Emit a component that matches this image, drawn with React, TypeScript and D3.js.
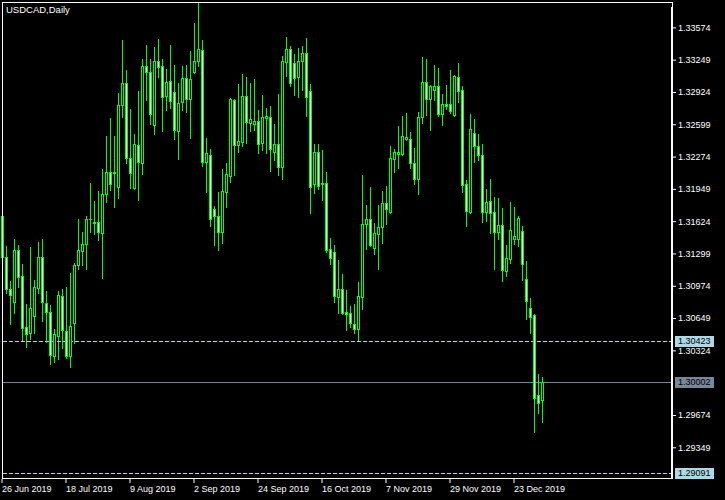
import { useEffect, useRef } from 'react';
import * as d3 from 'd3';

const symbolTitle = 'USDCAD,Daily';

// daily OHLC (26 Jun 2019 onwards, one value per trading day)
const openP = [
  1.31676, 1.31261, 1.30939, 1.30808, 1.31334, 1.31069, 1.30556, 1.30496, 1.30667, 1.30949,
  1.31261, 1.30798, 1.30707, 1.30265, 1.30472, 1.30868, 1.30516, 1.30265, 1.30597, 1.3118,
  1.31321, 1.31391, 1.31643, 1.31603, 1.31613, 1.31502, 1.31894, 1.32119, 1.32106, 1.31971,
  1.3279, 1.33014, 1.3226, 1.31961, 1.3239, 1.32212, 1.33185, 1.33125, 1.32595, 1.33235,
  1.33188, 1.32886, 1.33034, 1.3292, 1.32534, 1.3282, 1.33061, 1.32856, 1.33128, 1.33232,
  1.33346, 1.32216, 1.3229, 1.31743, 1.31673, 1.31518, 1.3192, 1.32081, 1.32843, 1.32393,
  1.32423, 1.32883, 1.32609, 1.32605, 1.32632, 1.32413, 1.32665, 1.32672, 1.32323, 1.324,
  1.32172, 1.33228, 1.33356, 1.33215, 1.33077, 1.33235, 1.33316, 1.32934, 1.32001, 1.32323,
  1.31995, 1.32008, 1.31341, 1.31311, 1.30864, 1.30939, 1.3071, 1.30697, 1.3059, 1.30542,
  1.30864, 1.31593, 1.31643, 1.31357, 1.31492, 1.31562, 1.31804, 1.31719, 1.32246, 1.32303,
  1.32303, 1.32454, 1.32451, 1.32212, 1.32045, 1.32669, 1.33021, 1.3285, 1.32944, 1.32984,
  1.32705, 1.32803, 1.32803, 1.32692, 1.33074, 1.32944, 1.31998, 1.31719, 1.32508, 1.3238,
  1.3229, 1.31719, 1.31827, 1.31716, 1.31518, 1.31585, 1.31126, 1.31246, 1.31448, 1.31448,
  1.31525, 1.31039, 1.30747, 1.3068, 1.29875, 1.29822,
];
const highP = [
  1.31696, 1.31374, 1.31022, 1.31445, 1.31384, 1.31193, 1.30791, 1.31367, 1.31032, 1.31414,
  1.31445, 1.30922, 1.30781, 1.30539, 1.30922, 1.30945, 1.30962, 1.31103, 1.31206, 1.31646,
  1.31515, 1.31676, 1.32005, 1.31827, 1.31928, 1.32149, 1.32481, 1.32662, 1.32481, 1.32913,
  1.33447, 1.33145, 1.32752, 1.32501, 1.32934, 1.33252, 1.33396, 1.33252, 1.33376, 1.33457,
  1.33255, 1.33155, 1.33396, 1.33195, 1.33014, 1.33185, 1.33195, 1.33336, 1.33615, 1.33816,
  1.33447, 1.32458, 1.3235, 1.31777, 1.31914, 1.32149, 1.32209, 1.32863, 1.32853, 1.33004,
  1.33105, 1.33074, 1.33014, 1.33054, 1.32742, 1.32893, 1.32766, 1.32783, 1.32602, 1.32903,
  1.33286, 1.33477, 1.33386, 1.33306, 1.33366, 1.33386, 1.33467, 1.33004, 1.32403, 1.32403,
  1.32343, 1.32122, 1.31458, 1.31384, 1.31233, 1.31093, 1.30932, 1.30774, 1.30791, 1.31012,
  1.32088, 1.31787, 1.31971, 1.31609, 1.31787, 1.31928, 1.31981, 1.3238, 1.3235, 1.32581,
  1.32682, 1.32709, 1.32518, 1.32363, 1.32722, 1.33276, 1.33255, 1.32994, 1.33195, 1.33165,
  1.32903, 1.32994, 1.33145, 1.33094, 1.33215, 1.32984, 1.32038, 1.32702, 1.32652, 1.32501,
  1.324, 1.31948, 1.32048, 1.31867, 1.31857, 1.31757, 1.31384, 1.31817, 1.31767, 1.31676,
  1.31575, 1.31223, 1.30851, 1.3069, 1.30087, 1.30056,
];
const lowP = [
  1.31243, 1.30904, 1.30587, 1.30697, 1.30959, 1.30429, 1.30361, 1.30436, 1.30496, 1.30898,
  1.30623, 1.30411, 1.30184, 1.3021, 1.30234, 1.30351, 1.30251, 1.3016, 1.30401, 1.31143,
  1.31183, 1.31143, 1.31518, 1.31492, 1.31438, 1.31055, 1.3182, 1.31938, 1.3177, 1.3186,
  1.32669, 1.32212, 1.31961, 1.31951, 1.3184, 1.32102, 1.32846, 1.32602, 1.32504, 1.33074,
  1.32531, 1.32742, 1.32763, 1.32451, 1.32249, 1.32742, 1.32725, 1.32464, 1.33118, 1.33188,
  1.32182, 1.31914, 1.31578, 1.31384, 1.31334, 1.31401, 1.3177, 1.32021, 1.32088, 1.32323,
  1.32383, 1.3241, 1.32531, 1.32544, 1.3231, 1.32343, 1.3231, 1.32129, 1.32239, 1.32088,
  1.32048, 1.33084, 1.32984, 1.32893, 1.32876, 1.32947, 1.32685, 1.31709, 1.3191, 1.31951,
  1.3184, 1.31311, 1.31193, 1.30814, 1.30697, 1.3069, 1.30529, 1.30556, 1.30496, 1.30429,
  1.30743, 1.31347, 1.31377, 1.31294, 1.31143, 1.31407, 1.31599, 1.31709, 1.32122, 1.32162,
  1.3229, 1.32441, 1.32156, 1.31998, 1.31897, 1.32615, 1.32692, 1.32541, 1.32843, 1.32682,
  1.32591, 1.32752, 1.32709, 1.32682, 1.32823, 1.3192, 1.31575, 1.31709, 1.32222, 1.32239,
  1.31616, 1.31626, 1.31505, 1.31143, 1.31448, 1.31025, 1.31075, 1.31206, 1.31394, 1.31377,
  1.31035, 1.30643, 1.30502, 1.29506, 1.29691, 1.29607,
];
const closeP = [
  1.31264, 1.30939, 1.30881, 1.31334, 1.31059, 1.30552, 1.30486, 1.30747, 1.30959, 1.31261,
  1.30808, 1.30707, 1.30275, 1.30486, 1.30878, 1.30526, 1.30265, 1.30566, 1.3118, 1.31334,
  1.31394, 1.31643, 1.3165, 1.31613, 1.31512, 1.31894, 1.32119, 1.31995, 1.32119, 1.3279,
  1.33014, 1.32257, 1.32112, 1.324, 1.32219, 1.33185, 1.33128, 1.32705, 1.33235, 1.33178,
  1.32876, 1.33024, 1.32836, 1.32538, 1.3281, 1.33061, 1.32856, 1.33051, 1.33232, 1.33353,
  1.32216, 1.32307, 1.31643, 1.31676, 1.31518, 1.31928, 1.32099, 1.32853, 1.32393, 1.32431,
  1.32883, 1.32619, 1.32652, 1.32632, 1.32403, 1.32672, 1.32682, 1.32353, 1.324, 1.32172,
  1.33235, 1.33356, 1.33017, 1.33067, 1.33235, 1.33316, 1.32876, 1.31971, 1.3232, 1.31981,
  1.32008, 1.31337, 1.3125, 1.30874, 1.30942, 1.30703, 1.3069, 1.30597, 1.30542, 1.30871,
  1.31596, 1.31643, 1.31387, 1.31502, 1.31562, 1.31804, 1.31743, 1.32257, 1.32317, 1.32317,
  1.32478, 1.32474, 1.32212, 1.32045, 1.32669, 1.33021, 1.3285, 1.32987, 1.32984, 1.32705,
  1.32803, 1.32786, 1.32732, 1.33084, 1.32937, 1.31991, 1.31729, 1.32551, 1.32383, 1.32293,
  1.31719, 1.31817, 1.31709, 1.31518, 1.31585, 1.31136, 1.31254, 1.31535, 1.31475, 1.31656,
  1.31196, 1.30816, 1.30663, 1.29842, 1.29792, 1.30002,
];

const priceTicks = [
  1.33574, 1.33249, 1.32924, 1.32599, 1.32274, 1.31949, 1.31624, 1.31299, 1.30974, 1.30649,
  1.30324, 1.29674, 1.29349,
];
const priceRange = [1.2904, 1.33829];
const levelLines = [1.30423, 1.29091];
const bidPrice = 1.30002;

const firstDay = new Date(Date.UTC(2019, 5, 26));
const days = d3.utcDay
  .range(firstDay, new Date(Date.UTC(2020, 1, 1)))
  .filter((d) => d.getUTCDay() !== 0 && d.getUTCDay() !== 6)
  .slice(0, openP.length);

const App = () => {
  const svgRef = useRef<SVGSVGElement>(null);

  useEffect(() => {
    if (!svgRef.current) return;
    const width = 725;
    const height = 500;
    const plotRight = 672;
    const plotTop = 2;
    const plotBottom = 478;
    const font = '"Liberation Sans", Arial, sans-serif';

    const svg = d3.select(svgRef.current);
    svg.selectAll('*').remove();
    svg.append('rect').attr('width', width).attr('height', height).attr('fill', '#000');

    const x = d3
      .scaleBand<Date>()
      .domain(days)
      .range([0, days.length * 4]);
    const y = d3.scaleLinear().domain(priceRange).range([plotBottom, plotTop]);

    // level lines
    levelLines.forEach((v) => {
      svg
        .append('line')
        .attr('x1', 3)
        .attr('x2', plotRight - 1)
        .attr('y1', Math.round(y(v)) + 0.5)
        .attr('y2', Math.round(y(v)) + 0.5)
        .attr('stroke', '#add8e6')
        .attr('stroke-dasharray', '4 2');
    });
    svg
      .append('line')
      .attr('x1', 3)
      .attr('x2', plotRight - 1)
      .attr('y1', Math.round(y(bidPrice)) + 0.5)
      .attr('y2', Math.round(y(bidPrice)) + 0.5)
      .attr('stroke', '#778899');

    // candles
    const candles = svg
      .append('g')
      .attr('shape-rendering', 'crispEdges')
      .selectAll('g')
      .data(days)
      .join('g');

    candles.each(function (d, i) {
      const g = d3.select(this);
      const px = (x(d) ?? 0) + 2;
      const hi = Math.round(y(highP[i]));
      const lo = Math.round(y(lowP[i]));
      const bTop = Math.round(y(Math.max(openP[i], closeP[i])));
      const bBot = Math.round(y(Math.min(openP[i], closeP[i])));
      const bear = closeP[i] < openP[i];
      g.append('rect')
        .attr('x', px)
        .attr('y', hi)
        .attr('width', 1)
        .attr('height', lo - hi + 1)
        .attr('fill', '#00ff00');
      g.append('rect')
        .attr('x', px - 1)
        .attr('y', bTop)
        .attr('width', 3)
        .attr('height', bBot - bTop + 1)
        .attr('fill', '#00ff00');
      if (bBot - bTop >= 2) {
        g.append('rect')
          .attr('x', px)
          .attr('y', bTop + 1)
          .attr('width', 1)
          .attr('height', bBot - bTop - 1)
          .attr('fill', bear ? '#ffffff' : '#000000');
      }
    });

    // frame
    svg
      .append('rect')
      .attr('x', 2.5)
      .attr('y', 2.5)
      .attr('width', plotRight - 2)
      .attr('height', plotBottom - 2)
      .attr('fill', 'none')
      .attr('stroke', '#fff');
    svg
      .append('line')
      .attr('x1', plotRight - 0.5)
      .attr('x2', plotRight - 0.5)
      .attr('y1', 7)
      .attr('y2', plotBottom)
      .attr('stroke', '#fff');

    // price axis
    const yAxis = svg
      .append('g')
      .attr('transform', `translate(${plotRight + 1},0)`)
      .call(
        d3
          .axisRight(y)
          .tickValues(priceTicks)
          .tickSize(3)
          .tickPadding(2)
          .tickFormat(d3.format('.5f')),
      );
    yAxis.select('.domain').remove();
    yAxis.selectAll('line').attr('stroke', '#fff');
    yAxis
      .selectAll('text')
      .attr('fill', '#fff')
      .attr('font-family', font)
      .attr('font-size', 9);

    // time axis
    const xAxis = svg
      .append('g')
      .attr('transform', `translate(0,${plotBottom + 1})`)
      .call(
        d3
          .axisBottom(x)
          .tickValues(days.filter((_, i) => i % 16 === 0))
          .tickSize(4)
          .tickPadding(3)
          .tickFormat((d) => d3.utcFormat('%-d %b %Y')(d as Date)),
      );
    xAxis.select('.domain').remove();
    xAxis.selectAll('line').attr('stroke', '#fff');
    xAxis
      .selectAll('text')
      .attr('fill', '#fff')
      .attr('text-anchor', 'start')
      .attr('font-family', font)
      .attr('font-size', 9);

    // price labels on the scale
    const labels = [
      ...levelLines.map((v) => ({ v, bg: '#add8e6' })),
      { v: bidPrice, bg: '#778899' },
    ];
    labels.forEach(({ v, bg }) => {
      const yy = Math.round(y(v));
      svg
        .append('rect')
        .attr('x', 675)
        .attr('y', yy - 5)
        .attr('width', 39)
        .attr('height', 11)
        .attr('fill', bg);
      svg
        .append('text')
        .attr('x', 678)
        .attr('y', yy + 0.5)
        .attr('dy', '0.32em')
        .attr('fill', '#000')
        .attr('font-family', font)
        .attr('font-size', 9)
        .text(d3.format('.5f')(v));
    });

    svg
      .append('text')
      .attr('x', 6)
      .attr('y', 12.5)
      .attr('fill', '#fff')
      .attr('font-family', font)
      .attr('font-size', 9.5)
      .text(symbolTitle);
  }, []);

  return (
    <svg
      ref={svgRef}
      width={725}
      height={500}
      style={{ position: 'absolute', left: 0, top: 0, display: 'block' }}
    ></svg>
  );
};

export default App;
